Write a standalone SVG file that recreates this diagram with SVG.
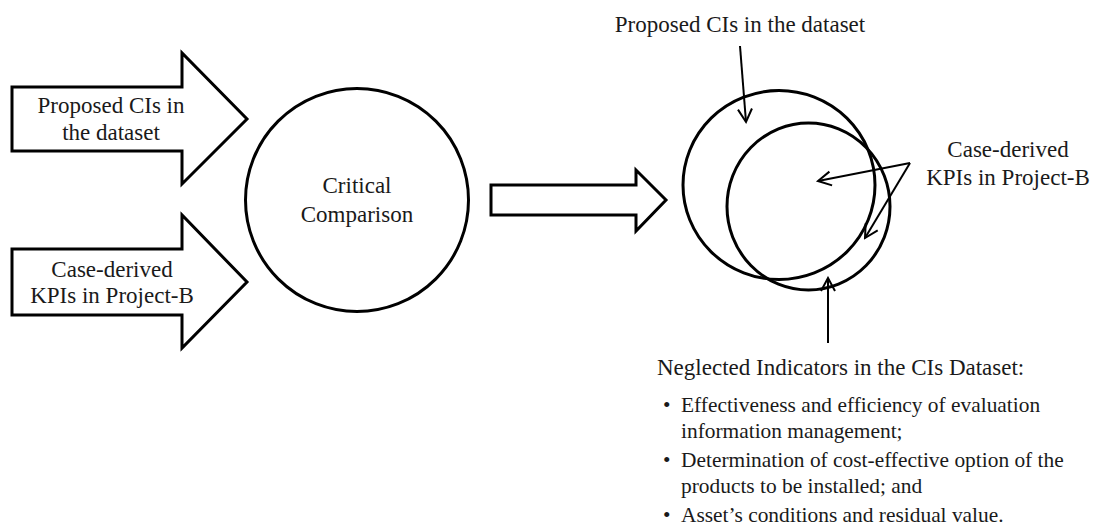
<svg xmlns="http://www.w3.org/2000/svg" width="1099" height="528" viewBox="0 0 1099 528">
  <style>
    .shape { fill: #ffffff; stroke: #000000; stroke-width: 3; stroke-linejoin: miter; }
    .ring { fill: none; stroke: #000000; stroke-width: 3; }
    .ptr { fill: none; stroke: #000000; stroke-width: 2; marker-end: url(#open); }
    .lbl { font-family: "Liberation Serif", "Times New Roman", serif; font-size: 23px; fill: #1a1a1a; }
    .mid { text-anchor: middle; }
    .body { font-family: "Liberation Serif", "Times New Roman", serif; font-size: 21.4px; fill: #1a1a1a; }
  </style>
  <defs>
    <marker id="open" viewBox="-14 -9 16 18" markerWidth="16" markerHeight="18" refX="0" refY="0" orient="auto" markerUnits="userSpaceOnUse">
      <path d="M-13,-7 L0,0 L-13,7" fill="none" stroke="#000000" stroke-width="2"/>
    </marker>
  </defs>
  <rect width="1099" height="528" fill="#ffffff"/>

  <!-- input block arrow: proposed CIs -->
  <g id="input-cis">
    <path class="shape" d="M12,87 L182,87 L182,53 L247,119 L182,184 L182,151 L12,151 Z"/>
    <text class="lbl mid" x="111" y="113">Proposed CIs in</text>
    <text class="lbl mid" x="111" y="140">the dataset</text>
  </g>

  <!-- input block arrow: case-derived KPIs -->
  <g id="input-kpis">
    <path class="shape" d="M12,249 L182,249 L182,215 L247,282 L182,348 L182,315 L12,315 Z"/>
    <text class="lbl mid" x="112" y="277">Case-derived</text>
    <text class="lbl mid" x="112" y="303">KPIs in Project-B</text>
  </g>

  <!-- central comparison circle -->
  <g id="comparison">
    <circle class="shape" cx="357" cy="200" r="111.5"/>
    <text class="lbl mid" x="357" y="193">Critical</text>
    <text class="lbl mid" x="357" y="222">Comparison</text>
  </g>

  <!-- output block arrow -->
  <g id="output-arrow">
    <path class="shape" d="M491,185 L636,185 L636,170 L666,200 L636,231 L636,215 L491,215 Z"/>
  </g>

  <!-- overlapping sets -->
  <g id="set-cis">
    <ellipse class="ring" cx="779" cy="185" rx="96" ry="94.5"/>
  </g>
  <g id="set-kpis">
    <ellipse class="ring" cx="808.5" cy="206.5" rx="81.5" ry="83.5"/>
  </g>

  <!-- labels around the sets -->
  <g id="label-cis">
    <text class="lbl mid" x="740" y="32">Proposed CIs in the dataset</text>
  </g>
  <g id="label-kpis">
    <text class="lbl mid" x="1008" y="157">Case-derived</text>
    <text class="lbl mid" x="1008" y="185">KPIs in Project-B</text>
  </g>
  <g id="label-neglected">
    <text class="lbl" x="657" y="375">Neglected Indicators in the CIs Dataset:</text>
    <text class="body" x="663" y="412">•</text>
    <text class="body" x="681" y="412">Effectiveness and efficiency of evaluation</text>
    <text class="body" x="681" y="438">information management;</text>
    <text class="body" x="663" y="467">•</text>
    <text class="body" x="681" y="467">Determination of cost-effective option of the</text>
    <text class="body" x="681" y="493">products to be installed; and</text>
    <text class="body" x="663" y="522">•</text>
    <text class="body" x="681" y="522">Asset’s conditions and residual value.</text>
  </g>

  <!-- pointer connectors -->
  <g id="connectors">
    <path class="ptr" d="M740,46 L746,122"/>
    <path class="ptr" d="M910,163 L818,181"/>
    <path class="ptr" d="M910,163 L865,238"/>
    <path class="ptr" d="M828,343 L828,278"/>
  </g>
</svg>
